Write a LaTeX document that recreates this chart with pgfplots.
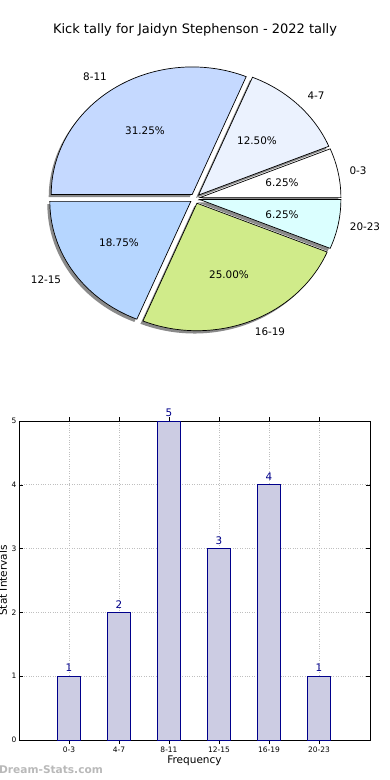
\documentclass[border=0pt]{standalone}
\usepackage{pgfplots}
\pgfplotsset{compat=1.18}
\usepackage{fontspec}
\setmainfont{DejaVu Sans}
\definecolor{cA}{HTML}{FFFFFF}
\definecolor{cB}{HTML}{EBF2FE}
\definecolor{cC}{HTML}{C5D9FF}
\definecolor{cD}{HTML}{B6D6FF}
\definecolor{cE}{HTML}{D0EB8A}
\definecolor{cF}{HTML}{DBFFFF}
\definecolor{barfill}{HTML}{CCCCE3}
\definecolor{baredge}{HTML}{00008B}
\definecolor{shadowc}{HTML}{8A8A8A}
% slice: #1 start count, #2 end count (cumulative, total 16), #3 fill
\newcommand\pieshadow[2]{%
  \addplot[fill=shadowc, draw=none, samples=90, domain=#1*22.5:#2*22.5, variable=\t]
   ({192.5+5*cos((#1+#2)*11.25)+141*cos(t)}, {578.6+5*sin((#1+#2)*11.25)+127.5*sin(t)})
   -- (axis cs:{192.5+5*cos((#1+#2)*11.25)},{578.6+5*sin((#1+#2)*11.25)}) -- cycle;}
\newcommand\pieslice[3]{%
  \addplot[fill=#3, draw=black, line width=0.7pt, line join=miter, samples=90, domain=#1*22.5:#2*22.5, variable=\t]
   ({195+5*cos((#1+#2)*11.25)+141*cos(t)}, {581.4+5*sin((#1+#2)*11.25)+127.5*sin(t)})
   -- (axis cs:{195+5*cos((#1+#2)*11.25)},{581.4+5*sin((#1+#2)*11.25)}) -- cycle;}
\begin{document}
\begin{tikzpicture}
\path[use as bounding box] (0pt,0pt) rectangle (390pt,780pt);
\begin{axis}[at={(0pt,0pt)}, anchor=south west, width=390pt, height=780pt, scale only axis,
  xmin=0, xmax=390, ymin=0, ymax=780, hide axis, clip=false]
% counts: 0-3:1, 4-7:2, 8-11:5, 12-15:3, 16-19:4, 20-23:1 (cumulative 0,1,3,8,11,15,16)
\pieshadow{0}{1}
\pieshadow{1}{3}
\pieshadow{3}{8}
\pieshadow{8}{11}
\pieshadow{11}{15}
\pieshadow{15}{16}
\pieslice{0}{1}{cA}
\pieslice{1}{3}{cB}
\pieslice{3}{8}{cC}
\pieslice{8}{11}{cD}
\pieslice{11}{15}{cE}
\pieslice{15}{16}{cF}
\begin{scope}[every node/.style={font=\fontsize{10.4}{12}\selectfont, inner sep=0pt}]
\node at (axis cs:95,703) {8-11};
\node at (axis cs:316,684) {4-7};
\node at (axis cs:358,609) {0-3};
\node at (axis cs:365,553) {20-23};
\node at (axis cs:270,448) {16-19};
\node at (axis cs:46,500) {12-15};
\node at (axis cs:145,649) {31.25\%};
\node at (axis cs:257,639) {12.50\%};
\node at (axis cs:282,597) {6.25\%};
\node at (axis cs:282,565) {6.25\%};
\node at (axis cs:229,505) {25.00\%};
\node at (axis cs:119,537) {18.75\%};
\end{scope}
\node[font=\fontsize{13}{15}\selectfont, inner sep=0pt] at (axis cs:195,750) {Kick tally for Jaidyn Stephenson - 2022 tally};
\node[font=\bfseries\fontsize{10.6}{12}\selectfont, text=gray!55, anchor=west, inner sep=0pt] at (axis cs:-1,10) {Dream-Stats.com};
\end{axis}
\begin{axis}[at={(19pt,40pt)}, anchor=south west, width=351pt, height=319pt, scale only axis,
  xmin=-1, xmax=6.02, ymin=0, ymax=5, clip=false,
  xtick={0,1,2,3,4,5}, xticklabels={0-3,4-7,8-11,12-15,16-19,20-23},
  ytick={0,1,2,3,4,5},
  /pgf/number format/assume math mode=true,
  tick label style={font=\fontsize{7.5}{9}\selectfont},
  xticklabel style={yshift=1pt},
  yticklabel style={xshift=1pt},
  grid=major, grid style={dotted, gray!50, line width=0.8pt},
  tick align=inside, major tick length=4pt, tick style={black, line width=0.6pt},
  axis line style={line width=0.8pt},
  xlabel={Frequency}, ylabel={Stat Intervals},
  label style={font=\fontsize{10.5}{12}\selectfont},
  xlabel style={at={(axis description cs:0.5,-0.066)}, anchor=center},
  ylabel style={at={(axis description cs:-0.046,0.5)}, anchor=center},
  ybar, bar width=0.46, bar shift=0pt,
  nodes near coords, nodes near coords style={font=\fontsize{10.4}{12}\selectfont, text=baredge, anchor=south, inner sep=0pt, yshift=4pt}]
\addplot[fill=barfill, draw=baredge, line width=0.8pt] coordinates {(0,1) (1,2) (2,5) (3,3) (4,4) (5,1)};
\end{axis}
\end{tikzpicture}
\end{document}
